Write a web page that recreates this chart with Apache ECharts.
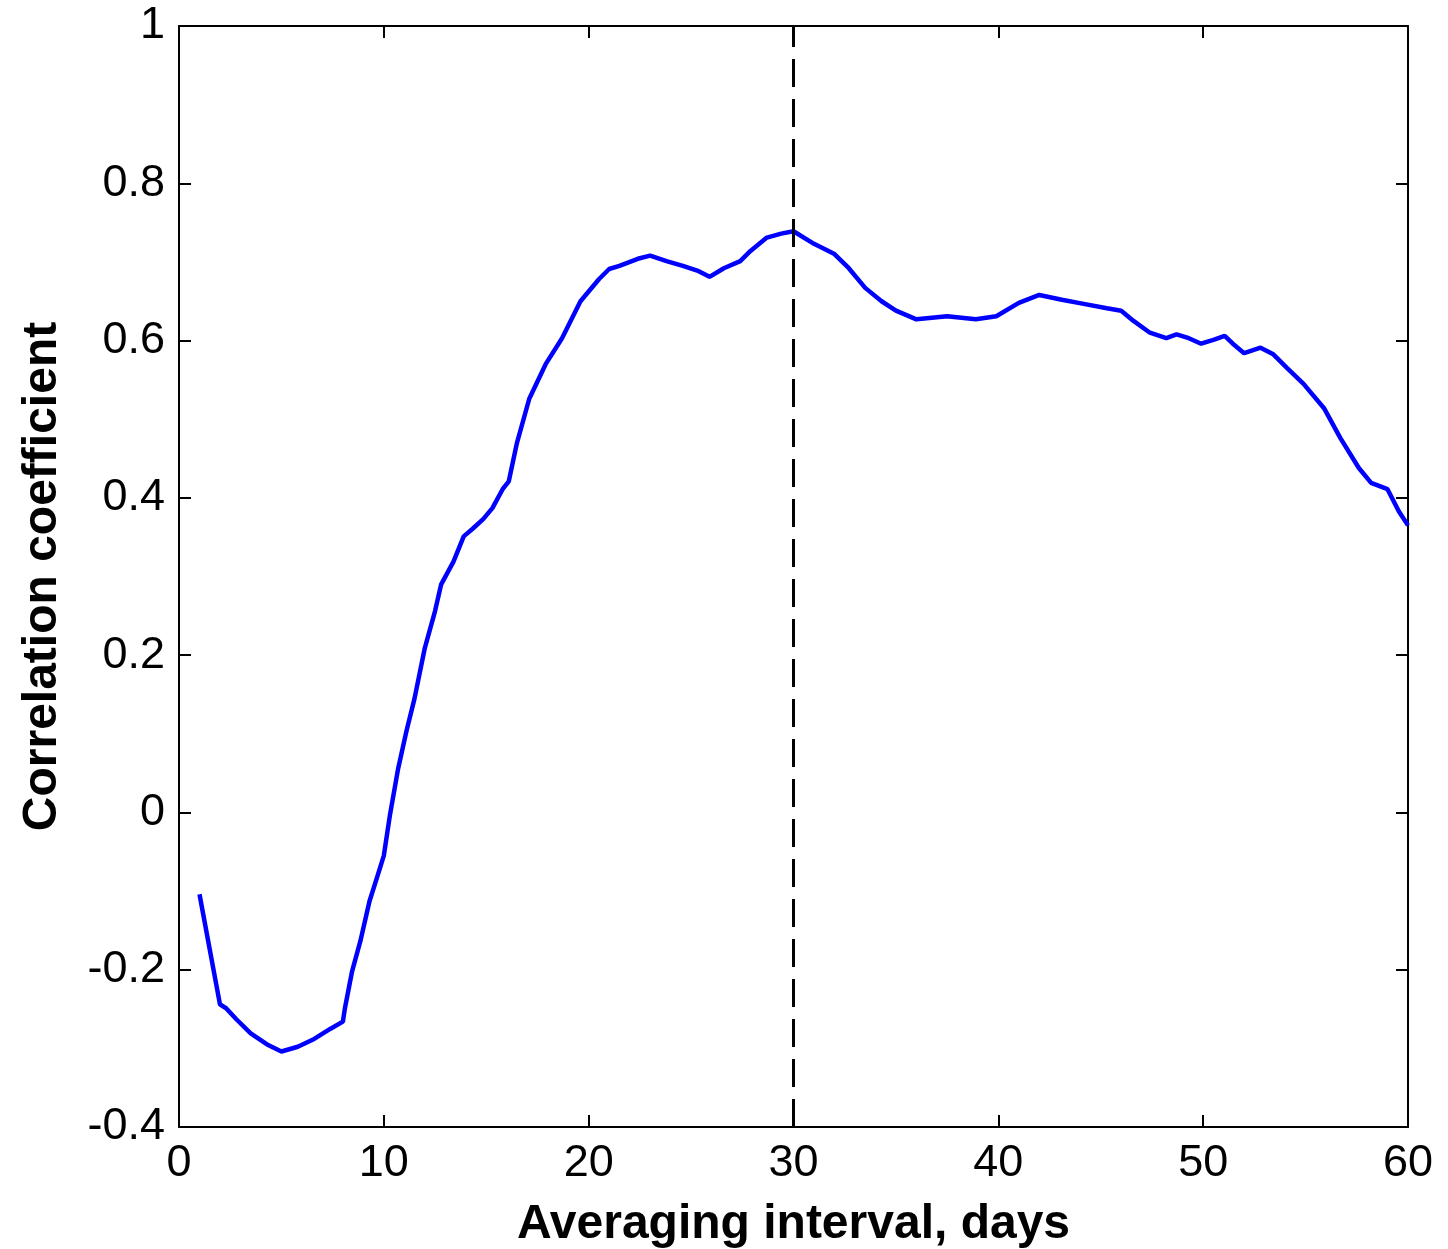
<!DOCTYPE html>
<html>
<head>
<meta charset="utf-8">
<script src="https://cdn.jsdelivr.net/npm/echarts@6/dist/echarts.min.js"></script>
<style>
html, body { margin: 0; padding: 0; background: #fff; }
#chart { width: 1448px; height: 1249px; }
</style>
</head>
<body>
<div id="chart"></div>
<script>
var days = [1, 2, 2.3, 2.8, 3.5, 4.3, 5, 5.8, 6.6, 7.4, 8, 8.1, 8.45, 8.85, 9.3, 9.7, 10, 10.3, 10.7, 11.1,
    11.5, 12, 12.5, 12.8, 13.4, 13.9, 14.35, 14.85, 15.3, 15.8, 16.1, 16.5, 17.1, 17.9, 18.7, 19.6,
    20.5, 21, 21.5, 22.4, 23, 23.8, 24.6, 25.3, 25.9, 26.6, 27.4, 27.9, 28.7, 29.4, 30, 31, 32, 32.7,
    33.5, 34.3, 35, 36, 37.5, 38.9, 39.9, 41, 42, 43.1, 44.1, 45.3, 46, 46.6, 47.4, 48.2, 48.7, 49.3,
    49.9, 50.5, 51.05, 51.45, 52, 52.8, 53.4, 54.1, 54.9, 55.9, 56.7, 57.6, 58.2, 59, 59.55, 60];
var corr = [-0.104, -0.244, -0.249, -0.263, -0.281, -0.295, -0.304, -0.298, -0.288, -0.275, -0.266, -0.249,
    -0.202, -0.164, -0.113, -0.08, -0.055, -0.003, 0.056, 0.103, 0.145, 0.209, 0.256, 0.29, 0.319, 0.351,
    0.361, 0.373, 0.387, 0.411, 0.421, 0.47, 0.526, 0.57, 0.603, 0.65, 0.678, 0.691, 0.695, 0.704, 0.708,
    0.701, 0.695, 0.689, 0.681, 0.692, 0.701, 0.714, 0.731, 0.736, 0.739, 0.723, 0.71, 0.692, 0.667, 0.65,
    0.638, 0.627, 0.631, 0.627, 0.631, 0.648, 0.658, 0.652, 0.647, 0.641, 0.638, 0.625, 0.61, 0.603, 0.608,
    0.603, 0.596, 0.601, 0.606, 0.596, 0.584, 0.591, 0.583, 0.565, 0.545, 0.514, 0.476, 0.438, 0.419, 0.411,
    0.383, 0.365];
var markDay = 30;

var myChart = echarts.init(document.getElementById('chart'));

var pts = [];
for (var i = 0; i < days.length; i++) {
    pts.push([days[i], corr[i]]);
}

var lineCol = '#000';
var labelFont = { color: '#000', fontSize: 45, fontFamily: 'Liberation Sans, Arial, sans-serif' };
var nameFont = { color: '#000', fontSize: 48, fontWeight: 'bold', fontFamily: 'Liberation Sans, Arial, sans-serif' };
var boxLine = { show: true, onZero: false, lineStyle: { color: lineCol, width: 2 } };
var boxTick = { show: true, inside: true, length: 12, lineStyle: { color: lineCol, width: 2 } };

option = {
    backgroundColor: '#fff',
    animation: false,
    grid: { left: 179, top: 26, right: 40, bottom: 122, containLabel: false, outerBoundsMode: 'none' },
    xAxis: [{
        type: 'value', position: 'bottom', min: 0, max: 60, interval: 10,
        name: 'Averaging interval, days', nameLocation: 'middle', nameGap: 74,
        nameTextStyle: nameFont,
        axisLine: boxLine,
        axisTick: boxTick,
        axisLabel: Object.assign({ margin: 14 }, labelFont),
        splitLine: { show: false }
    }, {
        type: 'value', position: 'top', min: 0, max: 60, interval: 10,
        axisLine: boxLine,
        axisTick: boxTick,
        axisLabel: { show: false },
        splitLine: { show: false }
    }],
    yAxis: [{
        type: 'value', position: 'left', min: -0.4, max: 1, interval: 0.2,
        name: 'Correlation coefficient', nameLocation: 'middle', nameGap: 112,
        nameTextStyle: nameFont,
        axisLine: boxLine,
        axisTick: boxTick,
        axisLabel: Object.assign({ margin: 14 }, labelFont),
        splitLine: { show: false }
    }, {
        type: 'value', position: 'right', min: -0.4, max: 1, interval: 0.2,
        axisLine: boxLine,
        axisTick: boxTick,
        axisLabel: { show: false },
        splitLine: { show: false }
    }],
    series: [{
        type: 'line',
        xAxisIndex: 0,
        yAxisIndex: 0,
        data: pts,
        showSymbol: false,
        lineStyle: { color: '#0000ff', width: 4.5 },
        markLine: {
            silent: true,
            symbol: 'none',
            label: { show: false },
            lineStyle: { color: '#000', width: 3, type: [28, 12] },
            data: [{ xAxis: markDay }]
        }
    }]
};
myChart.setOption(option);
</script>
</body>
</html>
